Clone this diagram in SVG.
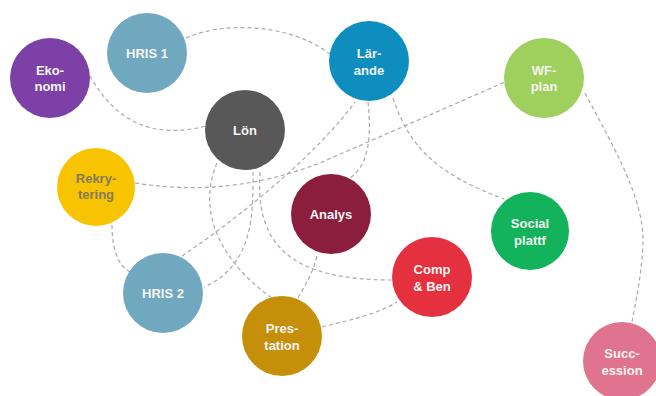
<svg xmlns="http://www.w3.org/2000/svg" width="656" height="396" viewBox="0 0 656 396">
<style>
.c{stroke:none}
.t{font-family:"Liberation Sans",Arial,sans-serif;font-weight:bold;font-size:13px;fill:#f4f4f4;text-anchor:middle}
.g{fill:#857a5a}
#connectors path{fill:none;stroke:#a9a9a9;stroke-width:1.2;stroke-dasharray:4 3}
</style>
<rect width="656" height="396" fill="#ffffff"/>
<g id="connectors">
<path d="M186,38 C220,22 290,22 331,55"/>
<path d="M90,76 C115,120 150,140 206,126"/>
<path d="M135,183 C210,195 270,182 320,163 L505,82"/>
<path d="M112,225 C112,250 118,265 130,272"/>
<path d="M182,256 C250,210 320,150 355,102"/>
<path d="M253,172 C253,210 255,265 204,287"/>
<path d="M217,163 C195,215 225,265 272,298"/>
<path d="M260,172 C255,245 290,280 392,280"/>
<path d="M368,102 C372,140 368,165 350,178"/>
<path d="M317,256 C312,275 305,285 298,298"/>
<path d="M322,327 C350,320 375,315 397,302"/>
<path d="M393,98 C410,150 440,175 504,199"/>
<path d="M585,93 C615,150 645,200 643,245 C641,280 635,305 632,322"/>
</g>
<g id="ekonomi"><circle class="c" cx="50" cy="78" r="40" fill="#7d40a6"/><text class="t" x="50" y="75">Eko-</text><text class="t" x="50" y="91">nomi</text></g>
<g id="hris1"><circle class="c" cx="147" cy="53" r="40" fill="#6fa8bf"/><text class="t" x="147" y="58">HRIS 1</text></g>
<g id="larande"><circle class="c" cx="369" cy="61" r="40" fill="#0d8ebe"/><text class="t" x="369" y="58">Lär-</text><text class="t" x="369" y="75">ande</text></g>
<g id="wfplan"><circle class="c" cx="544" cy="78" r="40" fill="#9fcf5c"/><text class="t" x="544" y="75">WF-</text><text class="t" x="544" y="91">plan</text></g>
<g id="lon"><circle class="c" cx="245" cy="130" r="40" fill="#585858"/><text class="t" x="245" y="135">Lön</text></g>
<g id="rekrytering"><circle class="c" cx="96" cy="187" r="39" fill="#f8c300"/><text class="t g" x="96" y="183">Rekry-</text><text class="t g" x="96" y="199">tering</text></g>
<g id="analys"><circle class="c" cx="331" cy="214" r="40" fill="#8a1e3c"/><text class="t" x="331" y="219">Analys</text></g>
<g id="social"><circle class="c" cx="530" cy="231" r="39" fill="#12b35a"/><text class="t" x="530" y="228">Social</text><text class="t" x="530" y="245">plattf</text></g>
<g id="hris2"><circle class="c" cx="163" cy="293" r="40" fill="#6fa8bf"/><text class="t" x="163" y="298">HRIS 2</text></g>
<g id="compben"><circle class="c" cx="432" cy="277" r="40" fill="#e5313f"/><text class="t" x="432" y="274">Comp</text><text class="t" x="432" y="291">&amp; Ben</text></g>
<g id="prestation"><circle class="c" cx="282" cy="336" r="40" fill="#c58f0a"/><text class="t" x="282" y="333">Pres-</text><text class="t" x="282" y="350">tation</text></g>
<g id="succession"><circle class="c" cx="622" cy="361" r="39" fill="#e0738e"/><text class="t" x="622" y="358">Succ-</text><text class="t" x="622" y="375">ession</text></g>
</svg>
